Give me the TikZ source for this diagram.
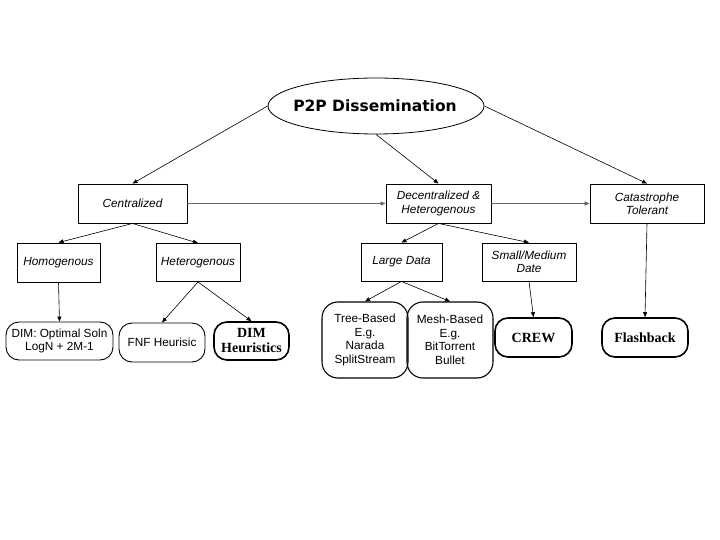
\documentclass[tikz,border=0pt]{standalone}
\usepackage{fontspec}
\setmainfont{Liberation Sans}
\newfontfamily\arialf{Liberation Sans}
\newfontfamily\timesf{Liberation Serif}
\newfontfamily\dejaf{DejaVu Sans}
\usetikzlibrary{shapes.geometric,arrows.meta}
\begin{document}
\begin{tikzpicture}[x=1pt,y=-1pt,
  sq/.style={draw=black,line width=0.9pt,rectangle,inner sep=0pt,align=center,
    font=\arialf\itshape\fontsize{11.8}{13.2}\selectfont},
  rnd/.style={draw=black,line width=0.9pt,rectangle,rounded corners=13pt,inner sep=0pt,align=center,
    font=\arialf\fontsize{11.8}{13.5}\selectfont},
  rndb/.style={draw=black,line width=1.6pt,rectangle,rounded corners=13pt,inner sep=0pt,align=center,
    font=\timesf\bfseries\fontsize{14}{15}\selectfont},
  arr/.style={-{Triangle[length=5pt,width=4pt]},line width=0.6pt,black},
  harr/.style={-{Triangle[length=5pt,width=4pt]},line width=0.6pt,black!60}
]
\useasboundingbox (0,0) rectangle (720,540);
\fill[white] (0,0) rectangle (720,540);

\node[ellipse,draw=black,line width=0.8pt,minimum width=216pt,minimum height=56pt,inner sep=0pt] (root) at (376,106) {};
\node[font=\dejaf\bfseries\fontsize{15.5}{17}\selectfont,inner sep=0pt] (roottxt) at (375,106) {P2P Dissemination};

\node[sq,minimum width=109pt,minimum height=39pt] (cen) at (132.5,203.5) {Centralized};
\node[sq,minimum width=105pt,minimum height=39pt] (dec) at (438.5,203.5) {Decentralized \&\\Heterogenous};
\node[sq,minimum width=114pt,minimum height=39pt] (cat) at (647,203.5) {Catastrophe\\Tolerant};

\node[sq,minimum width=83pt,minimum height=39pt] (hom) at (58.5,262.5) {Homogenous};
\node[sq,minimum width=84pt,minimum height=38pt] (het) at (198,262.5) {Heterogenous};
\node[sq,minimum width=81pt,minimum height=38pt] (large) at (401.5,262) {Large Data};
\node[sq,minimum width=94pt,minimum height=38pt] (small) at (529,262) {Small/Medium\\Date};

\node[rnd,minimum width=107pt,minimum height=38pt] (dimopt) at (59.5,341) {DIM: Optimal Soln\\LogN + 2M-1};
\node[rnd,minimum width=86pt,minimum height=39pt] (fnf) at (162,342.5) {FNF Heurisic};
\node[rndb,minimum width=75pt,minimum height=38pt] (dimh) at (251.5,341) {DIM\\Heuristics};
\node[rnd,line width=1.1pt,rounded corners=16pt,minimum width=86pt,minimum height=76pt] (tree) at (365,340) {Tree-Based\\E.g.\\Narada\\SplitStream};
\node[rnd,line width=1.1pt,rounded corners=16pt,minimum width=86pt,minimum height=76pt] (mesh) at (450,340) {Mesh-Based\\E.g.\\BitTorrent\\Bullet};
\node[rndb,minimum width=77pt,minimum height=39pt] (crew) at (533.5,337.5) {CREW};
\node[rndb,minimum width=86pt,minimum height=39pt] (flash) at (645,337.5) {Flashback};

\draw[arr] (root.west) -- (cen.north);
\draw[arr] (root.south) -- (dec.north);
\draw[arr] (root.east) -- (cat.north);
\draw[harr] (cen.east) -- (dec.west);
\draw[harr] (dec.east) -- (cat.west);
\draw[arr] (cen.south) -- (hom.north);
\draw[arr] (cen.south) -- (het.north);
\draw[arr] (hom.south) -- (dimopt.north);
\draw[arr] (het.south) -- (fnf.north);
\draw[arr] (het.south) -- (dimh.north);
\draw[arr] (dec.south) -- (large.north);
\draw[arr] (dec.south) -- (small.north);
\draw[arr] (large.south) -- (tree.north);
\draw[arr] (large.south) -- (mesh.north);
\draw[arr] (small.south) -- (crew.north);
\draw[arr] (cat.south) -- (flash.north);
\end{tikzpicture}
\end{document}
